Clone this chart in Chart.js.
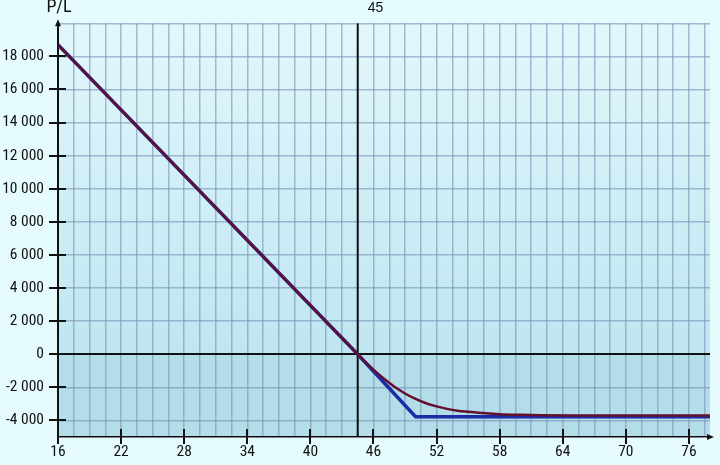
<!DOCTYPE html>
<html>
<head>
<meta charset="utf-8">
<script src="https://cdn.jsdelivr.net/npm/chart.js@4/dist/chart.umd.min.js"></script>
<style>
  html, body { margin: 0; padding: 0; background: #e6fbfd; }
  #wrap { width: 720px; height: 465px; position: relative; }
</style>
</head>
<body>
<div id="wrap"><canvas id="c"></canvas></div>
<script>
// expiry payoff (blue)
const expiryX = [16, 44.5, 50, 78];
const expiryY = [18700, 0, -3780, -3780];

// payoff today (red)
const todayX = [16, 42, 43, 44, 44.5, 45, 46, 47, 48, 49, 50, 51, 52, 53, 54, 55, 56, 58, 60, 62, 65, 70, 78];
const todayY = [18700, 1640, 985, 330, 0, -320, -930, -1480, -1960, -2370, -2700, -2960, -3150, -3300, -3410, -3480, -3540, -3620, -3660, -3685, -3700, -3705, -3705];

// current price marker
const markerX = [44.5, 44.5];
const markerY = [-5000, 20000];
const markerLabel = '45';

// axes
const xMin = 16, xMax = 78, xGridStep = 1.5;
const xTickLabels = [16, 22, 28, 34, 40, 46, 52, 58, 64, 70, 76];
const yMin = -5000, yMax = 20000;
const yGridLines = [-4000, -2000, 0, 2000, 4000, 6000, 8000, 10000, 12000, 14000, 16000, 18000, 20000];
const yTickLabels = [-4000, -2000, 0, 2000, 4000, 6000, 8000, 10000, 12000, 14000, 16000, 18000];
const yTitle = 'P/L';

const FONT = '"Liberation Sans", Arial, sans-serif';
const NARROW = '"Roboto Condensed", "Liberation Sans", sans-serif';
const GRID = 'rgba(120,145,180,0.6)';

Chart.defaults.font.family = NARROW;
Chart.defaults.font.size = 15.5;
Chart.defaults.color = '#111';

const pts = (xs, ys) => xs.map((x, i) => ({ x: x, y: ys[i] }));
const fmt = v => {
  const s = Math.abs(v).toString().replace(/\B(?=(\d{3})+(?!\d))/g, ' ');
  return (v < 0 ? '-' : '') + s;
};

const decor = {
  id: 'decor',
  beforeDraw(chart) {
    const { ctx, chartArea: a, scales: { y } } = chart;
    const zero = y.getPixelForValue(0);
    ctx.save();
    const g = ctx.createLinearGradient(0, a.top, 0, zero);
    g.addColorStop(0, '#e2f7fb');
    g.addColorStop(1, '#bfe6f1');
    ctx.fillStyle = g;
    ctx.fillRect(a.left, a.top, a.right - a.left, zero - a.top);
    ctx.fillStyle = '#b3dde9';
    ctx.fillRect(a.left, zero, a.right - a.left, a.bottom - zero);
    ctx.restore();
  },
  afterDraw(chart) {
    const { ctx, chartArea: a, scales: { x, y } } = chart;
    ctx.save();
    ctx.strokeStyle = '#111';
    ctx.fillStyle = '#111';
    ctx.lineWidth = 2;
    // crossing tick marks
    yTickLabels.forEach(v => {
      const py = Math.round(y.getPixelForValue(v));
      ctx.beginPath();
      ctx.moveTo(a.left - 9, py);
      ctx.lineTo(a.left + 8, py);
      ctx.stroke();
    });
    xTickLabels.forEach(v => {
      const px = Math.round(x.getPixelForValue(v));
      ctx.beginPath();
      ctx.moveTo(px, a.bottom - 8);
      ctx.lineTo(px, a.bottom + 7);
      ctx.stroke();
    });
    // arrows
    ctx.beginPath();
    ctx.moveTo(a.left, a.top - 4);
    ctx.lineTo(a.left - 3, a.top + 3);
    ctx.lineTo(a.left + 3, a.top + 3);
    ctx.closePath();
    ctx.fill();
    ctx.beginPath();
    ctx.moveTo(a.right + 4, a.bottom);
    ctx.lineTo(a.right - 3, a.bottom - 3);
    ctx.lineTo(a.right - 3, a.bottom + 3);
    ctx.closePath();
    ctx.fill();
    // texts
    ctx.font = '18px ' + NARROW;
    ctx.textAlign = 'center';
    ctx.textBaseline = 'alphabetic';
    ctx.fillText(yTitle, a.left + 1, 12);
    ctx.font = '14px ' + FONT;
    ctx.textAlign = 'left';
    ctx.fillText(markerLabel, x.getPixelForValue(markerX[0]) + 10, 12);
    ctx.restore();
  }
};

new Chart(document.getElementById('c'), {
  type: 'scatter',
  data: {
    datasets: [
      {
        data: pts(todayX, todayY),
        showLine: true,
        borderColor: '#62102e',
        borderWidth: 2.5,
        pointRadius: 0,
        cubicInterpolationMode: 'monotone',
        order: 0
      },
      {
        data: pts(expiryX, expiryY),
        showLine: true,
        borderColor: '#1b2ca6',
        borderWidth: 3.5,
        pointRadius: 0,
        order: 1
      },
      {
        data: pts(markerX, markerY),
        showLine: true,
        borderColor: '#111',
        borderWidth: 2,
        pointRadius: 0,
        order: 2
      }
    ]
  },
  options: {
    responsive: true,
    maintainAspectRatio: false,
    animation: false,
    layout: { padding: { top: 16, right: 10, left: 0, bottom: 0 } },
    plugins: { legend: { display: false }, tooltip: { enabled: false } },
    scales: {
      x: {
        type: 'linear',
        min: xMin,
        max: xMax,
        afterBuildTicks: s => {
          const t = [];
          for (let v = xMin; v < xMax; v += xGridStep) t.push({ value: v });
          s.ticks = t;
        },
        afterFit: s => { s.height = 28; },
        grid: {
          drawTicks: false,
          color: ctx => ctx.tick && ctx.tick.value === xMin ? 'transparent' : GRID,
          lineWidth: 1.5
        },
        border: { color: '#111', width: 1.5 },
        ticks: {
          autoSkip: false,
          maxRotation: 0,
          padding: 6,
          color: '#111',
          callback: v => xTickLabels.includes(v) ? String(v) : ''
        }
      },
      y: {
        min: yMin,
        max: yMax,
        afterBuildTicks: s => { s.ticks = yGridLines.map(v => ({ value: v })); },
        afterFit: s => { s.width = 58; },
        grid: {
          drawTicks: false,
          color: ctx => ctx.tick && ctx.tick.value === 0 ? '#111' : GRID,
          lineWidth: ctx => ctx.tick && ctx.tick.value === 0 ? 2 : 1.5
        },
        border: { color: '#111', width: 2 },
        ticks: {
          autoSkip: false,
          padding: 14,
          color: '#111',
          callback: v => yTickLabels.includes(v) ? fmt(v) : ''
        }
      }
    }
  },
  plugins: [decor]
});
</script>
</body>
</html>
